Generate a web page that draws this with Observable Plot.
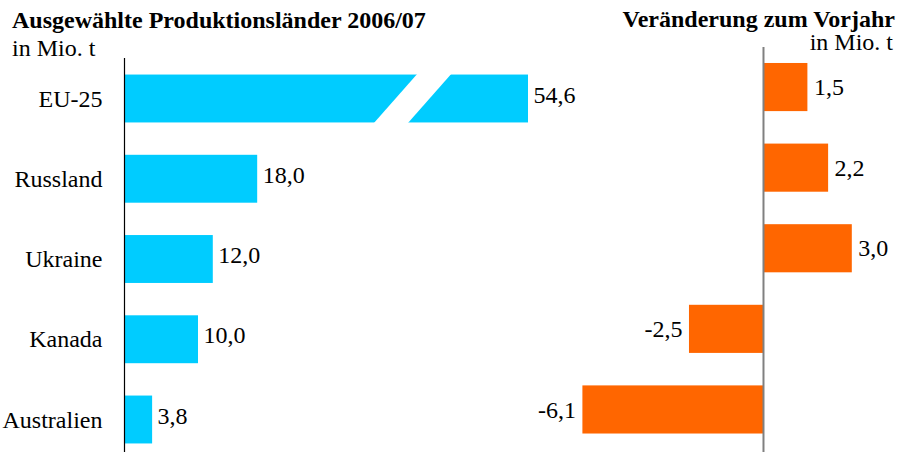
<!DOCTYPE html>
<html>
<head>
<meta charset="utf-8">
<script src="https://cdn.jsdelivr.net/npm/d3@7"></script>
<script src="https://cdn.jsdelivr.net/npm/@observablehq/plot@0.6"></script>
<style>
  html, body { margin: 0; padding: 0; background: #fff; }
  #wrap { position: relative; width: 903px; height: 452px; overflow: hidden; font-family: "Liberation Serif", "Times New Roman", serif; }
  #wrap svg { position: absolute; top: 0; overflow: visible; }
</style>
</head>
<body>
<div id="wrap"></div>
<script>
// ---- data ----
const countries = ["EU-25", "Russland", "Ukraine", "Kanada", "Australien"];
const production = [54.6, 18.0, 12.0, 10.0, 3.8];   // Mio. t, 2006/07
const change = [1.5, 2.2, 3.0, -2.5, -6.1];          // Veränderung zum Vorjahr, Mio. t

const titleLeft = "Ausgewählte Produktionsländer 2006/07";
const titleRight = "Veränderung zum Vorjahr";
const unitLabel = "in Mio. t";

const prodData = countries.map((c, i) => ({country: c, value: production[i]}));
const chgData = countries.map((c, i) => ({country: c, value: change[i]}));
const fmt = v => v.toFixed(1).replace(".", ",");

const FONT = "Liberation Serif, Times New Roman, serif";
const FS = 24;
const wrap = document.getElementById("wrap");

// ---- left panel: production ----
const left = Plot.plot({
  width: 560, height: 452,
  marginLeft: 124, marginRight: 32, marginTop: 58, marginBottom: 0,
  style: {fontFamily: FONT, fontSize: FS + "px", color: "#000", background: "transparent"},
  x: {domain: [0, 54.6], axis: null},
  y: {domain: countries, range: [42.2, 475.8], padding: 0.403, round: false, label: null},
  marks: [
    Plot.barX(prodData, {x: "value", y: "country", fill: "#00CCFF"}),
    Plot.ruleX([0], {stroke: "#000", strokeWidth: 1.2}),
    Plot.axisY({tickSize: 0, tickPadding: 22, fontSize: FS, label: null}),
    Plot.text(prodData, {x: "value", y: "country", text: d => fmt(d.value), textAnchor: "start", dx: 5, dy: -4, fontSize: FS, fill: "#000"})
  ]
});
left.style.left = "0px";
wrap.appendChild(left);

// axis break on the EU-25 bar, placed through the plot's own scales
{
  const sx = left.scale("x"), sy = left.scale("y");
  const yTop = sy.apply("EU-25") - 2;
  const yBot = sy.apply("EU-25") + sy.bandwidth + 2;
  const pts = [[sx.apply(39.8), yTop], [sx.apply(44.4), yTop], [sx.apply(38.2), yBot], [sx.apply(33.6), yBot]];
  d3.select(left).insert("polygon", "g[aria-label='rule']")
    .attr("points", pts.map(p => p.join(",")).join(" "))
    .attr("fill", "white");
}

// ---- right panel: change ----
const right = Plot.plot({
  width: 343, height: 452,
  marginLeft: 22.4, marginRight: 51.2, marginTop: 47, marginBottom: 0,
  style: {fontFamily: FONT, fontSize: FS + "px", color: "#000", background: "transparent"},
  x: {domain: [-6.1, 3.0], axis: null},
  y: {domain: countries, range: [30.5, 466], padding: 0.403, round: false, axis: null},
  marks: [
    Plot.barX(chgData, {x: "value", y: "country", fill: "#FF6600"}),
    Plot.ruleX([0], {stroke: "#808080", strokeWidth: 2}),
    Plot.text(chgData.filter(d => d.value >= 0), {
      x: "value", y: "country", text: d => fmt(d.value),
      textAnchor: "start", dx: 6, fontSize: FS, fill: "#000"
    }),
    Plot.text(chgData.filter(d => d.value < 0), {
      x: "value", y: "country", text: d => fmt(d.value),
      textAnchor: "end", dx: -7, fontSize: FS, fill: "#000"
    })
  ]
});
right.style.left = "560px";
wrap.appendChild(right);

// ---- titles ----
const ls = d3.select(left);
ls.append("text").attr("x", 12).attr("y", 28).attr("text-anchor", "start").attr("font-weight", "bold").attr("font-size", FS)
  .attr("font-family", FONT).text(titleLeft);
ls.append("text").attr("x", 12).attr("y", 56).attr("text-anchor", "start").attr("font-size", FS)
  .attr("font-family", FONT).text(unitLabel);
const rs = d3.select(right);
rs.append("text").attr("x", 335).attr("y", 27).attr("text-anchor", "end").attr("font-weight", "bold").attr("font-size", FS)
  .attr("font-family", FONT).text(titleRight);
rs.append("text").attr("x", 333).attr("y", 50).attr("text-anchor", "end").attr("font-size", FS)
  .attr("font-family", FONT).text(unitLabel);
</script>
</body>
</html>
